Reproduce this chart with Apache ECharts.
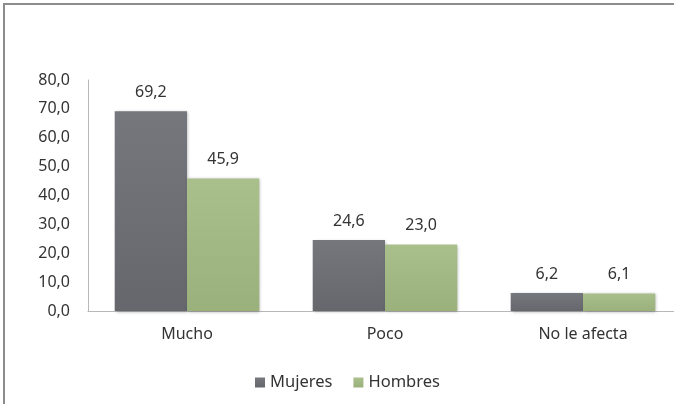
<!DOCTYPE html>
<html><head><meta charset="utf-8">
<script src="https://cdn.jsdelivr.net/npm/echarts@6/dist/echarts.min.js"></script>
<style>html,body{margin:0;padding:0;background:#fff}#c{width:674px;height:404px}</style>
</head><body><div id="c"></div>
<script>
var categories = ['Mucho', 'Poco', 'No le afecta'];
var mujeres = [69.2, 24.6, 6.2];
var hombres = [45.9, 23.0, 6.1];
var seriesNames = ['Mujeres', 'Hombres'];
var fmt = function (v) { return Number(v).toFixed(1).replace('.', ','); };
var FONT = '"Noto Sans", sans-serif';
var grad = function (a, b) { return new echarts.graphic.LinearGradient(0, 0, 0, 1, [{ offset: 0, color: a }, { offset: 1, color: b }]); };
var chart = echarts.init(document.getElementById('c'));
chart.setOption({
  animation: false,
  textStyle: { fontFamily: FONT },
  graphic: [{ type: 'rect', shape: { x: 4, y: 4, width: 720, height: 440 }, style: { fill: 'none', stroke: '#8c8c8c', lineWidth: 2 }, silent: true }],
  legend: {
    data: seriesNames, top: 369, left: 250, padding: 5, itemWidth: 10, itemHeight: 10, itemGap: 21,
    icon: 'rect', textStyle: { fontSize: 16.5, color: '#333', fontFamily: FONT }
  },
  grid: { left: 88, top: 80, width: 594, height: 231, containLabel: false, outerBoundsMode: 'none' },
  xAxis: {
    type: 'category', data: categories,
    axisLine: { lineStyle: { color: '#b8b8b8' } },
    axisTick: { show: false },
    axisLabel: { fontSize: 16, color: '#333', margin: 15, fontFamily: FONT }
  },
  yAxis: {
    type: 'value', min: 0, max: 80, interval: 10,
    axisLine: { show: true, lineStyle: { color: '#b8b8b8' } },
    axisTick: { show: false },
    splitLine: { show: false },
    axisLabel: { fontSize: 16, color: '#333', margin: 18, formatter: fmt, fontFamily: FONT }
  },
  series: [
    { name: seriesNames[0], type: 'bar', data: mujeres, barGap: '0%', barCategoryGap: '27%',
      itemStyle: { color: grad('#76767d', '#66666d'), shadowColor: 'rgba(0,0,0,0.3)', shadowBlur: 3, shadowOffsetX: 1, shadowOffsetY: 1 },
      label: { show: true, position: 'top', distance: 11, fontSize: 16, color: '#333', formatter: function (p) { return fmt(p.value); } } },
    { name: seriesNames[1], type: 'bar', data: hombres,
      itemStyle: { color: grad('#a9bf8c', '#9ab17c'), shadowColor: 'rgba(0,0,0,0.3)', shadowBlur: 3, shadowOffsetX: 1, shadowOffsetY: 1 },
      label: { show: true, position: 'top', distance: 11, fontSize: 16, color: '#333', formatter: function (p) { return fmt(p.value); } } }
  ]
});
</script></body></html>
